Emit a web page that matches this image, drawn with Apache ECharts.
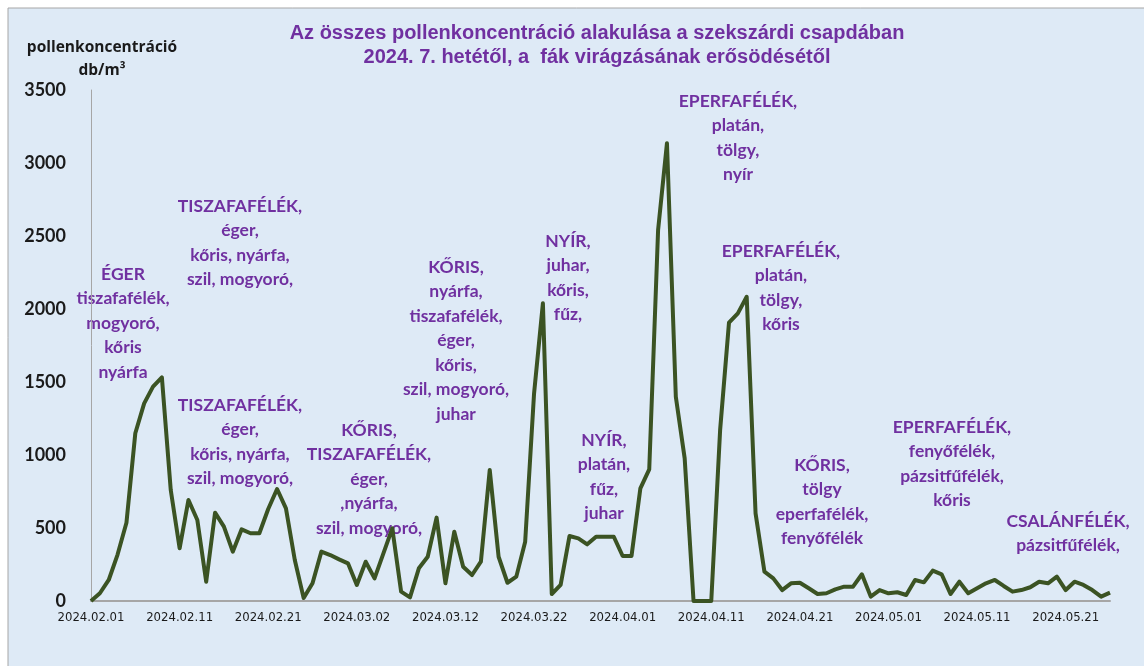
<!DOCTYPE html>
<html>
<head>
<meta charset="utf-8">
<script src="https://cdn.jsdelivr.net/npm/echarts@6/dist/echarts.min.js"></script>
<style>
html,body{margin:0;padding:0;background:#ffffff;}
#chart{width:1144px;height:666px;}
</style>
</head>
<body>
<div id="chart"></div>
<script>
// ---- data ----
var startDate = '2024-02-01';
var dayCount = 116;
var yTicks = [0, 500, 1000, 1500, 2000, 2500, 3000, 3500];
var pollen = [
  0, 53, 144, 318, 536, 1149, 1354, 1468, 1532, 760,
  361, 692, 555, 132, 605, 509, 338, 491, 464, 464,
  630, 767, 635, 281, 20, 121, 338, 315, 285, 258,
  110, 269, 155, 326, 498, 64, 25, 224, 303, 571,
  121, 475, 235, 178, 269, 897, 303, 125, 167, 406,
  1420, 2039, 48, 110, 445, 429, 388, 440, 440, 440,
  308, 308, 772, 902, 2541, 3135, 1399, 977, 0, 0,
  0, 1171, 1906, 1970, 2084, 600, 201, 155, 75, 121,
  125, 87, 48, 53, 80, 98, 98, 183, 30, 75,
  53, 60, 41, 144, 128, 208, 183, 48, 132, 53,
  87, 121, 144, 103, 64, 75, 94, 132, 121, 167,
  75, 132, 110, 75, 30, 57
];
var titleLines = [
  'Az összes pollenkoncentráció alakulása a szekszárdi csapdában',
  '2024. 7. hetétől, a  fák virágzásának erősödésétől'
];
var yAxisTitle = ['pollenkoncentráció', 'db/m³'];
var notes = [
  'ÉGER\ntiszafafélék,\nmogyoró,\nkőris\nnyárfa',
  'TISZAFAFÉLÉK,\néger,\nkőris, nyárfa,\nszil, mogyoró,',
  'TISZAFAFÉLÉK,\néger,\nkőris, nyárfa,\nszil, mogyoró,',
  'KŐRIS,\nTISZAFAFÉLÉK,\néger,\n,nyárfa,\nszil, mogyoró,',
  'KŐRIS,\nnyárfa,\ntiszafafélék,\néger,\nkőris,\nszil, mogyoró,\njuhar',
  'NYÍR,\njuhar,\nkőris,\nfűz,',
  'NYÍR,\nplatán,\nfűz,\njuhar',
  'EPERFAFÉLÉK,\nplatán,\ntölgy,\nnyír',
  'EPERFAFÉLÉK,\nplatán,\ntölgy,\nkőris',
  'KŐRIS,\ntölgy\neperfafélék,\nfenyőfélék',
  'EPERFAFÉLÉK,\nfenyőfélék,\npázsitfűfélék,\nkőris',
  'CSALÁNFÉLÉK,\npázsitfűfélék,'
];
// ---- layout (pixel positions of note blocks: centre x, centre of first line y) ----
var notePos = [
  [123, 274], [240, 206], [240, 405], [369, 430], [456, 267], [568, 241],
  [604, 440], [738, 101], [781, 251], [822, 465], [952, 427], [1068, 521]
];

function pad(n){ return (n < 10 ? '0' : '') + n; }
var categories = [];
(function(){
  var p = startDate.split('-');
  var t0 = Date.UTC(+p[0], +p[1] - 1, +p[2]);
  for (var i = 0; i < dayCount; i++) {
    var d = new Date(t0 + i * 86400000);
    categories.push(d.getUTCFullYear() + '.' + pad(d.getUTCMonth() + 1) + '.' + pad(d.getUTCDate()));
  }
})();

var purple = '#7030A0';
var lh = 24.5;
var graphics = [
  { type: 'rect', shape: { x: 8, y: 8, width: 1200, height: 700 },
    style: { fill: '#DEEAF6', stroke: '#A6A6A6', lineWidth: 1 }, z: -10, silent: true },
  { type: 'text', style: { x: 597, y: 21, text: titleLines.join('\n'), fill: purple,
      font: 'bold 20px "Liberation Sans", Arial, sans-serif', align: 'center', verticalAlign: 'top', lineHeight: 24 } },
  { type: 'text', style: { x: 102, y: 36, text: yAxisTitle.join('\n'), fill: '#1a1a1a',
      font: 'bold 15.5px "Open Sans", sans-serif', align: 'center', verticalAlign: 'top', lineHeight: 23 } }
];
notes.forEach(function(t, i){
  graphics.push({ type: 'text', style: { x: notePos[i][0], y: notePos[i][1] - lh / 2, text: t,
    fill: purple, font: 'bold 17.5px Lato, sans-serif', align: 'center', verticalAlign: 'top', lineHeight: lh } });
});

var chart = echarts.init(document.getElementById('chart'));
chart.setOption({
  backgroundColor: '#ffffff',
  animation: false,
  graphic: graphics,
  grid: { left: 91, right: 34, top: 90, bottom: 65, containLabel: false },
  xAxis: {
    type: 'category',
    data: categories,
    boundaryGap: false,
    axisLine: { lineStyle: { color: '#A6A6A6', width: 2 } },
    axisTick: { show: false },
    axisLabel: { interval: 9, color: '#1a1a1a', fontSize: 13, margin: 10,
      fontFamily: '"DejaVu Sans Condensed", "Liberation Sans", sans-serif' },
    splitLine: { show: false }
  },
  yAxis: {
    type: 'value',
    min: yTicks[0],
    max: yTicks[yTicks.length - 1],
    interval: 500,
    axisLine: { show: true, lineStyle: { color: '#A6A6A6', width: 1 } },
    axisTick: { show: false },
    axisLabel: { color: '#1a1a1a', fontSize: 18, fontWeight: 'bold', margin: 25, fontFamily: 'Lato, sans-serif',
      formatter: function(v){ return String(v); } },
    splitLine: { show: false }
  },
  series: [{
    type: 'line',
    data: pollen,
    symbol: 'none',
    smooth: false,
    lineStyle: { color: '#3B5323', width: 4, join: 'round' }
  }]
});
</script>
</body>
</html>
